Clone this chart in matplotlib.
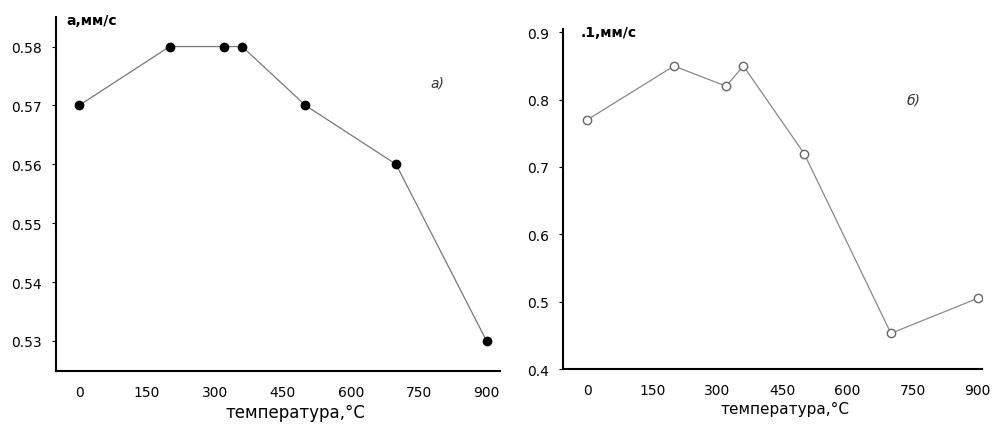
import matplotlib.pyplot as plt

temp = [0, 200, 320, 360, 500, 700, 900]
a_vals = [0.57, 0.58, 0.58, 0.58, 0.57, 0.56, 0.53]
lam_vals = [0.77, 0.85, 0.82, 0.85, 0.72, 0.453, 0.505]
xticks = [0, 150, 300, 450, 600, 750, 900]

fig = plt.figure(figsize=(9.97, 4.31), dpi=100)

# panel a
ax1 = fig.add_axes([0.0562, 0.137, 0.445, 0.821])
ax1.plot(temp, a_vals, '-', color='#777777', lw=0.9,
         marker='o', ms=6, mfc='black', mec='black')
ax1.set_xlim(-51, 929)
ax1.set_ylim(0.5249, 0.585)
ax1.set_yticks([0.53, 0.54, 0.55, 0.56, 0.57, 0.58])
ax1.set_yticklabels(['0.53', '0.54', '0.55', '0.56', '0.57', '0.58'])
ax1.text(-28, 0.5845, 'а,мм/с', fontsize=10, fontweight='bold', va='center')
ax1.text(775, 0.5732, 'а)', fontsize=10, style='italic', color='#333333')
ax1.set_xlabel('температура,°С', fontsize=12)
ax1.xaxis.set_label_coords(0.54, -0.09)

# panel b
ax2 = fig.add_axes([0.565, 0.1415, 0.420, 0.789])
ax2.plot(temp, lam_vals, '-', color='#888888', lw=0.9,
         marker='o', ms=6, mfc='white', mec='#666666', mew=1.0)
ax2.set_xlim(-55, 910)
ax2.set_ylim(0.4, 0.905)
ax2.set_yticks([0.4, 0.5, 0.6, 0.7, 0.8, 0.9])
ax2.set_yticklabels(['0.4', '0.5', '0.6', '0.7', '0.8', '0.9'])
ax2.text(-15, 0.9, '.1,мм/с', fontsize=10, fontweight='bold', va='center')
ax2.text(735, 0.795, 'б)', fontsize=10, style='italic', color='#333333')
ax2.set_xlabel('температура,°С', fontsize=11)
ax2.xaxis.set_label_coords(0.53, -0.095)

for ax in (ax1, ax2):
    ax.set_xticks(xticks)
    ax.spines['top'].set_visible(False)
    ax.spines['right'].set_visible(False)
    ax.spines['left'].set_linewidth(1.5)
    ax.spines['bottom'].set_linewidth(1.5)
    ax.tick_params(axis='x', length=0, pad=10, labelsize=10)
    ax.tick_params(axis='y', length=3, width=0.8, labelsize=10, pad=7)

fig.savefig('out.png', dpi=100)
